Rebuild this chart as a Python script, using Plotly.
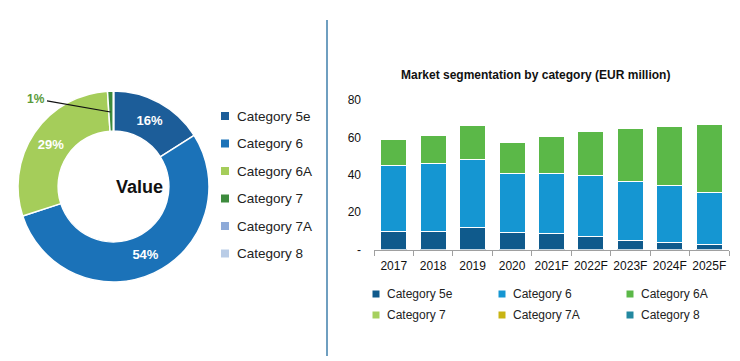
import plotly.graph_objects as go

# the page shows the figure with an 8px body margin, so the figure is sized
# to the visible area and positions are given in window pixels
OFF = 8
W, H = 740 - OFF, 361 - OFF

# ---- data ----
categories = ["Category 5e", "Category 6", "Category 6A", "Category 7", "Category 7A", "Category 8"]
pie_values = [16, 54, 29, 1, 0, 0]
pie_colors = ["#1c5d99", "#1b72b8", "#a5cd5a", "#3d8b3d", "#8eaad8", "#b9cce6"]

years = ["2017", "2018", "2019", "2020", "2021F", "2022F", "2023F", "2024F", "2025F"]
cat5e = [9.4, 9.4, 11.6, 8.9, 8.6, 6.8, 4.6, 3.5, 2.7]
cat6 = [35.8, 36.7, 36.8, 31.6, 31.9, 32.9, 32.0, 30.6, 28.0]
cat6a = [13.7, 15.1, 17.8, 16.8, 20.2, 23.5, 27.9, 31.6, 36.3]
cat7 = [0, 0, 0, 0, 0, 0, 0, 0, 0]
cat7a = [0, 0, 0, 0, 0, 0, 0, 0, 0]
cat8 = [0, 0, 0, 0, 0, 0, 0, 0, 0]
bar_series = [cat5e, cat6, cat6a, cat7, cat7a, cat8]
bar_colors = ["#0f5a8c", "#1596d2", "#5bb848", "#a6d05e", "#c8b414", "#2388a0"]

y_tickvals = [0, 20, 40, 60, 80]
y_ticktext = ["-", "20", "40", "60", "80"]

title_text = "Market segmentation by category (EUR million)"
center_text = "Value"


def px(x):
    return (x - OFF) / W


def py(y):
    return 1 - (y - OFF) / H


FONT = "Liberation Sans"
fig = go.Figure()

# ---- donut ----
fig.add_trace(go.Pie(
    labels=categories,
    values=pie_values,
    marker=dict(colors=pie_colors, line=dict(color="white", width=1.5)),
    hole=0.58,
    sort=False,
    direction="clockwise",
    rotation=0,
    texttemplate="<b>%{percent:.0%}</b>",
    textposition=["inside", "inside", "inside", "none", "none", "none"],
    insidetextfont=dict(color="white", size=13, family=FONT),
    insidetextorientation="horizontal",
    domain=dict(x=[px(18), px(209)], y=[py(282), py(91)]),
    automargin=False,
    showlegend=False,
    hoverinfo="label+percent",
))

# ---- stacked bars ----
for name, vals, col in zip(categories, bar_series, bar_colors):
    fig.add_trace(go.Bar(
        x=years, y=vals, name=name,
        marker=dict(color=col, line=dict(color="white", width=1 if any(vals) else 0)),
        showlegend=False,
    ))

fig.update_layout(
    width=W, height=H,
    margin=dict(l=0, r=0, t=0, b=0, autoexpand=False),
    paper_bgcolor="white", plot_bgcolor="white",
    barmode="stack", bargap=0.34,
    font=dict(family=FONT, color="#222222", size=12),
    xaxis=dict(
        domain=[px(374), px(729)],
        showline=True, linecolor="#a0a0a0", linewidth=1,
        ticks="outside", tickson="boundaries", ticklen=5, tickcolor="#a0a0a0",
        showgrid=False, zeroline=False,
        tickangle=0, automargin=False, ticklabelstandoff=5,
        tickfont=dict(size=12, color="#111111"),
        anchor="y",
    ),
    yaxis=dict(
        domain=[py(249.5), py(100)],
        range=[0, 80],
        tickvals=y_tickvals, ticktext=y_ticktext,
        showgrid=False, zeroline=False, showline=False,
        ticklabelstandoff=12, automargin=False,
        tickfont=dict(size=12, color="#111111"),
    ),
)

annotations = []
shapes = []

# center label
annotations.append(dict(x=px(113.5), y=py(187), xref="paper", yref="paper",
                        text="<b>%s</b>" % center_text, showarrow=False,
                        font=dict(size=18, color="#111111", family=FONT)))
# 1% leader label
annotations.append(dict(x=px(110.5), y=py(112), xref="paper", yref="paper",
                        text="<b>%d%%</b>" % pie_values[3], showarrow=True,
                        arrowhead=0, arrowwidth=1.2, arrowcolor="#111111",
                        ax=-74, ay=-13,
                        font=dict(size=12, color="#5a9a3a", family=FONT)))

# pie legend
for i, (name, col) in enumerate(zip(categories, pie_colors)):
    yc = 116 + i * 27.5
    shapes.append(dict(type="rect", xref="paper", yref="paper",
                       x0=px(221), x1=px(229), y0=py(yc + 4), y1=py(yc - 4),
                       fillcolor=col, line=dict(width=0)))
    annotations.append(dict(x=px(235), y=py(yc), xref="paper", yref="paper",
                            xanchor="left", yanchor="middle", text=name, showarrow=False,
                            font=dict(size=13.5, color="#222222", family=FONT)))

# bar legend
col_x = [376, 502, 630]
row_y = [294, 315]
for i, (name, col) in enumerate(zip(categories, bar_colors)):
    xc = col_x[i % 3]
    yc = row_y[i // 3]
    shapes.append(dict(type="rect", xref="paper", yref="paper",
                       x0=px(xc - 3.5), x1=px(xc + 3.5), y0=py(yc + 3.5), y1=py(yc - 3.5),
                       fillcolor=col, line=dict(width=0)))
    annotations.append(dict(x=px(xc + 9), y=py(yc), xref="paper", yref="paper",
                            xanchor="left", yanchor="middle", text=name, showarrow=False,
                            font=dict(size=12, color="#222222", family=FONT)))

# bar title
annotations.append(dict(x=px(535), y=py(75), xref="paper", yref="paper",
                        xanchor="center", yanchor="middle",
                        text="<b>%s</b>" % title_text, showarrow=False,
                        font=dict(size=12, color="#111111", family=FONT)))

# divider
shapes.append(dict(type="line", xref="paper", yref="paper",
                   x0=px(327), x1=px(327), y0=py(20), y1=py(356),
                   line=dict(color="#3f7fab", width=1.5)))

fig.update_layout(annotations=annotations, shapes=shapes)
fig.write_html("out.html")
